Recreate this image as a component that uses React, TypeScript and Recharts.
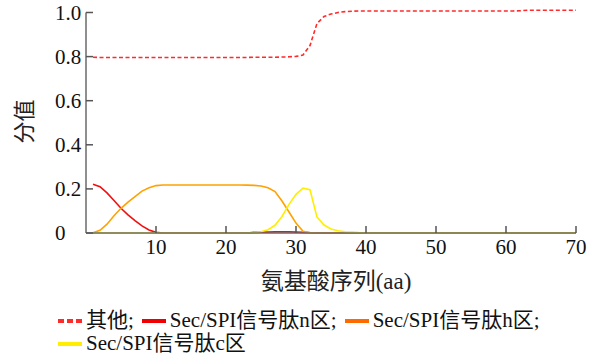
import React from 'react';
import { LineChart, Line, XAxis, YAxis, Legend, ReferenceLine } from 'recharts';

const positions = [
  1, 2, 3, 4, 5, 6, 7, 8, 9, 10, 11, 12, 13, 14, 15, 16, 17, 18, 19, 20,
  21, 22, 23, 24, 25, 26, 27, 28, 29, 30, 31, 32, 33, 34, 35, 36, 37, 38, 39, 40,
  41, 42, 43, 44, 45, 46, 47, 48, 49, 50, 51, 52, 53, 54, 55, 56, 57, 58, 59, 60,
  61, 62, 63, 64, 65, 66, 67, 68, 69, 70,
];

const otherScores = [
  0.797, 0.796, 0.796, 0.796, 0.796, 0.796, 0.796, 0.796, 0.796, 0.796,
  0.796, 0.796, 0.796, 0.796, 0.796, 0.796, 0.796, 0.796, 0.796, 0.796,
  0.796, 0.796, 0.796, 0.797, 0.797, 0.797, 0.797, 0.798, 0.799, 0.801,
  0.807, 0.85, 0.95, 0.982, 0.993, 1.0, 1.004, 1.006, 1.007, 1.007,
  1.007, 1.007, 1.007, 1.007, 1.007, 1.007, 1.007, 1.007, 1.007, 1.007,
  1.007, 1.007, 1.007, 1.007, 1.007, 1.007, 1.007, 1.007, 1.007, 1.007,
  1.007, 1.008, 1.01, 1.01, 1.01, 1.01, 1.01, 1.01, 1.01, 1.01,
];

const nRegion = [
  0.221, 0.21, 0.182, 0.147, 0.112, 0.082, 0.056, 0.032, 0.014, 0.003,
  0, 0, 0, 0, 0, 0, 0, 0, 0, 0,
  0, 0, 0, 0.003, 0.004, 0.004, 0.005, 0.005, 0.005, 0.004,
  0.003, 0.001, 0, 0, 0, 0, 0, 0, 0, 0,
  0, 0, 0, 0, 0, 0, 0, 0, 0, 0,
  0, 0, 0, 0, 0, 0, 0, 0, 0, 0,
  0, 0, 0, 0, 0, 0, 0, 0, 0, 0,
];

const hRegion = [
  0.001, 0.012, 0.04, 0.078, 0.112, 0.14, 0.165, 0.19, 0.205, 0.215,
  0.218, 0.218, 0.218, 0.218, 0.218, 0.218, 0.218, 0.218, 0.218, 0.218,
  0.218, 0.218, 0.217, 0.216, 0.213, 0.205, 0.188, 0.145, 0.095, 0.045,
  0.008, 0.002, 0, 0, 0, 0, 0, 0, 0, 0,
  0, 0, 0, 0, 0, 0, 0, 0, 0, 0,
  0, 0, 0, 0, 0, 0, 0, 0, 0, 0,
  0, 0, 0, 0, 0, 0, 0, 0, 0, 0,
];

const cRegion = [
  0, 0, 0, 0, 0, 0, 0, 0, 0, 0,
  0, 0, 0, 0, 0, 0, 0, 0, 0, 0,
  0, 0, 0, 0.002, 0.006, 0.015, 0.035, 0.075, 0.13, 0.175,
  0.203, 0.196, 0.072, 0.036, 0.018, 0.01, 0.006, 0.004, 0.002, 0.001,
  0, 0, 0, 0, 0, 0, 0, 0, 0, 0,
  0, 0, 0, 0, 0, 0, 0, 0, 0, 0,
  0, 0, 0, 0, 0, 0, 0, 0, 0, 0,
];

const xTicks = [10, 20, 30, 40, 50, 60, 70];
const yTicks = [0, 0.2, 0.4, 0.6, 0.8, 1.0];
const seriesNames = ['其他;', 'Sec/SPI信号肽n区;', 'Sec/SPI信号肽h区;', 'Sec/SPI信号肽c区'];
const xTitle = '氨基酸序列(aa)';
const yTitle = '分值';

const data = positions.map((p, i) => ({
  pos: p,
  other: otherScores[i],
  n: nRegion[i],
  h: hRegion[i],
  c: cRegion[i],
}));

const FONT = "'Liberation Serif', 'Noto Sans CJK SC', serif";
const legendColors = ['#ff2a2a', '#f00000', '#ff6a00', '#ffee00'];
const AXIS = '#6a6a6a';

const LegendContent = () => (
  <div
    style={{
      display: 'flex',
      flexWrap: 'wrap',
      width: 500,
      fontFamily: FONT,
      fontSize: 21,
      lineHeight: '23px',
      color: '#111',
    }}
  >
    {seriesNames.map((name, i) => (
      <div key={name} style={{ display: 'flex', alignItems: 'center', marginRight: 8, height: 23 }}>
        <svg width={24} height={6} style={{ marginRight: 4 }}>
          <line
            x1={0}
            y1={3}
            x2={24}
            y2={3}
            stroke={legendColors[i]}
            strokeWidth={4}
            strokeDasharray={i === 0 ? '6 3' : undefined}
          />
        </svg>
        <span>{name}</span>
      </div>
    ))}
  </div>
);

const YTitle = (props: any) => {
  const vb = props.viewBox || {};
  const cx = vb.x + 25;
  const cy = vb.y + vb.height / 2;
  return (
    <text
      x={cx}
      y={cy}
      transform={`rotate(-90 ${cx} ${cy})`}
      textAnchor="middle"
      dominantBaseline="central"
      fontFamily={FONT}
      fontSize={22}
      fill="#222"
    >
      {yTitle}
    </text>
  );
};

const XTitle = (props: any) => {
  const vb = props.viewBox || {};
  const cx = vb.x + vb.width / 2 + 5;
  const cy = vb.y + 48;
  return (
    <text
      x={cx}
      y={cy}
      textAnchor="middle"
      dominantBaseline="central"
      fontFamily={FONT}
      fontSize={23}
      fill="#222"
    >
      {xTitle}
    </text>
  );
};

export default function App() {
  return (
    <div
      style={{
        position: 'absolute',
        left: 0,
        top: 0,
        width: 591,
        height: 357,
        background: '#fff',
        fontFamily: FONT,
      }}
    >
      <LineChart
        width={591}
        height={357}
        data={data}
        margin={{ top: 9.85, right: 15, left: 0, bottom: 16 }}
        style={{ fontFamily: FONT }}
      >
        <XAxis
          dataKey="pos"
          type="number"
          domain={[0, 70]}
          ticks={xTicks}
          height={62}
          axisLine={{ stroke: AXIS, strokeWidth: 1.5 }}
          tickLine={{ stroke: '#555', strokeWidth: 1.5 }}
          tickSize={-7}
          tickMargin={13}
          tick={{ fill: '#111', fontSize: 21, fontFamily: FONT }}
          label={<XTitle />}
        />
        <YAxis
          type="number"
          domain={[0, 1.012]}
          ticks={yTicks}
          width={86}
          axisLine={false}
          tickLine={{ stroke: '#555', strokeWidth: 1.5 }}
          tickSize={-7}
          tickMargin={38}
          tickFormatter={(v: number) => (v === 0 ? '0' : v.toFixed(1))}
          tick={{ fill: '#111', fontSize: 21, fontFamily: FONT, textAnchor: 'start' }}
          label={<YTitle />}
        />
        <ReferenceLine
          segment={[
            { x: 0, y: 0 },
            { x: 0, y: 1 },
          ]}
          stroke={AXIS}
          strokeWidth={1.5}
        />
        <Legend
          content={<LegendContent />}
          verticalAlign="bottom"
          wrapperStyle={{ left: 58, top: 309, bottom: 'auto', width: 520, height: 46 }}
        />
        <Line
          type="linear"
          dataKey="other"
          name={seriesNames[0]}
          stroke="#ff2a2a"
          strokeWidth={1.6}
          strokeDasharray="4 2.5"
          dot={false}
          isAnimationActive={false}
        />
        <Line
          type="linear"
          dataKey="n"
          name={seriesNames[1]}
          stroke="#f01010"
          strokeWidth={1.6}
          dot={false}
          isAnimationActive={false}
        />
        <Line
          type="linear"
          dataKey="h"
          name={seriesNames[2]}
          stroke="#ffa200"
          strokeWidth={1.6}
          dot={false}
          isAnimationActive={false}
        />
        <Line
          type="linear"
          dataKey="c"
          name={seriesNames[3]}
          stroke="#ffee00"
          strokeWidth={1.6}
          dot={false}
          isAnimationActive={false}
        />
      </LineChart>
    </div>
  );
}
